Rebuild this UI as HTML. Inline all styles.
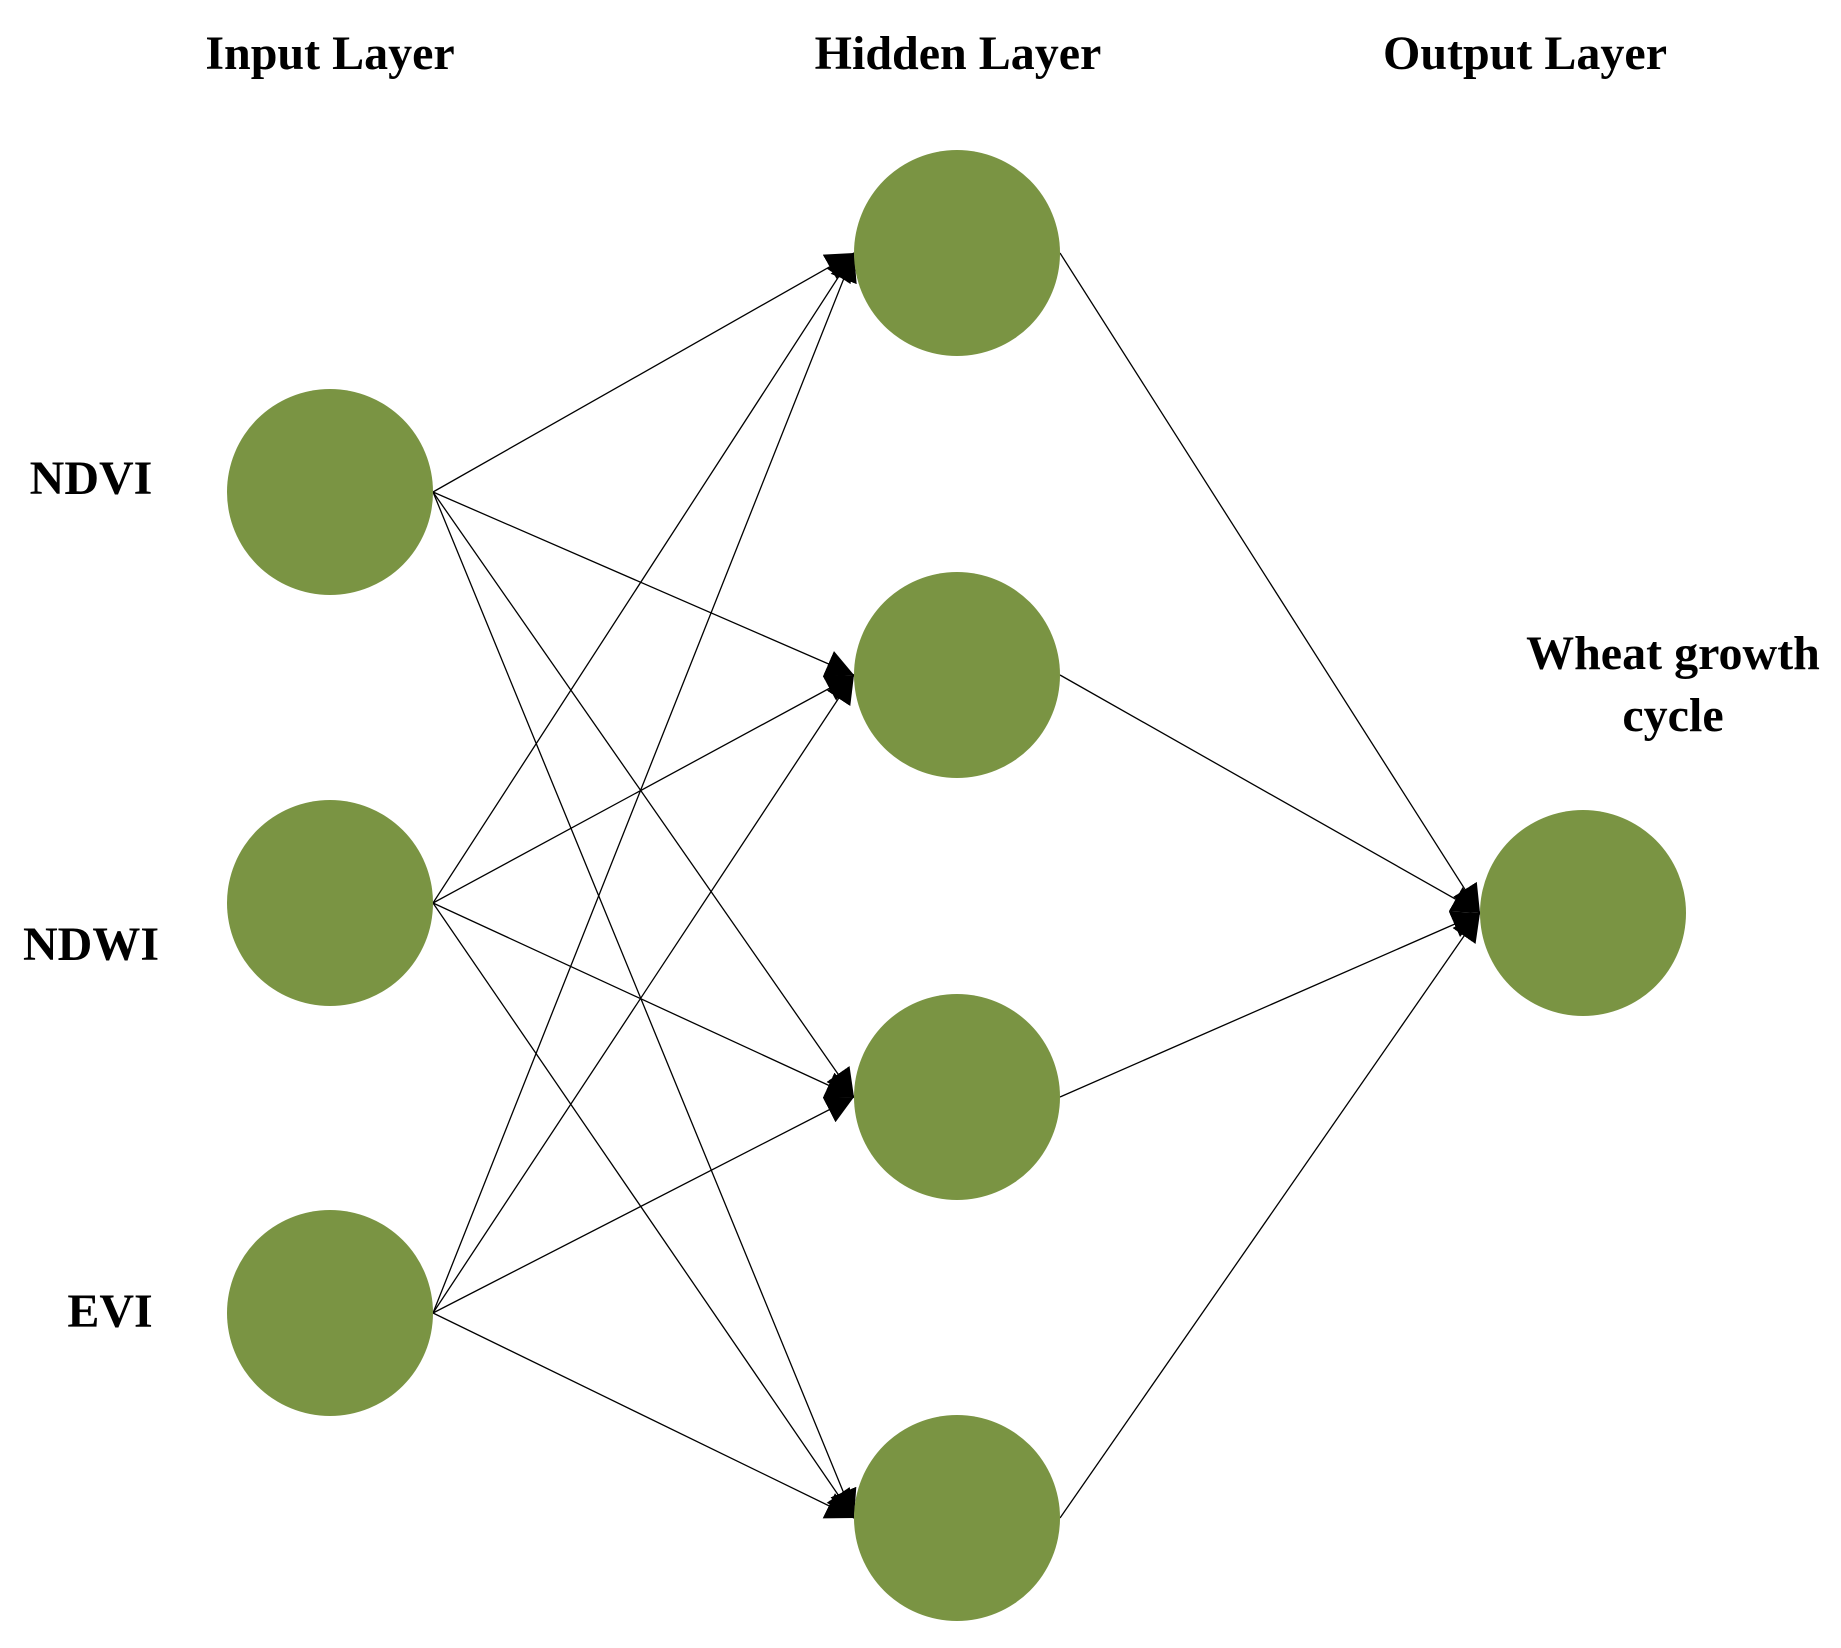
<!DOCTYPE html>
<html><head><style>html,body{margin:0;padding:0;background:#fff}</style></head>
<body>
<svg width="1841" height="1643" viewBox="0 0 1841 1643" xmlns="http://www.w3.org/2000/svg" font-family="Liberation Serif, serif" font-weight="bold" font-size="48">
<defs>
<marker id="a" viewBox="0 0 10 10" refX="10" refY="5" markerWidth="28" markerHeight="28" markerUnits="userSpaceOnUse" orient="auto"><path d="M0,0 L10,5 L0,10 z" fill="#000"/></marker>
</defs>
<g stroke="#000" stroke-width="1.3" marker-end="url(#a)">
<line x1="433" y1="492" x2="854" y2="253"/>
<line x1="433" y1="492" x2="854" y2="675"/>
<line x1="433" y1="492" x2="854" y2="1097"/>
<line x1="433" y1="492" x2="854" y2="1518"/>
<line x1="433" y1="903" x2="854" y2="253"/>
<line x1="433" y1="903" x2="854" y2="675"/>
<line x1="433" y1="903" x2="854" y2="1097"/>
<line x1="433" y1="903" x2="854" y2="1518"/>
<line x1="433" y1="1313" x2="854" y2="253"/>
<line x1="433" y1="1313" x2="854" y2="675"/>
<line x1="433" y1="1313" x2="854" y2="1097"/>
<line x1="433" y1="1313" x2="854" y2="1518"/>
<line x1="1060" y1="253" x2="1480" y2="913"/>
<line x1="1060" y1="675" x2="1480" y2="913"/>
<line x1="1060" y1="1097" x2="1480" y2="913"/>
<line x1="1060" y1="1518" x2="1480" y2="913"/>
</g>
<g fill="#7a9443">
<circle cx="330" cy="492" r="103"/>
<circle cx="330" cy="903" r="103"/>
<circle cx="330" cy="1313" r="103"/>
<circle cx="957" cy="253" r="103"/>
<circle cx="957" cy="675" r="103"/>
<circle cx="957" cy="1097" r="103"/>
<circle cx="957" cy="1518" r="103"/>
<circle cx="1583" cy="913" r="103"/>
</g>
<g fill="#000" text-anchor="middle">
<text x="330" y="69">Input Layer</text>
<text x="958" y="69">Hidden Layer</text>
<text x="1525" y="69">Output Layer</text>
<text x="1673" y="669">Wheat growth</text>
<text x="1673" y="731">cycle</text>
<text x="91" y="494">NDVI</text>
<text x="91" y="960">NDWI</text>
<text x="110" y="1327">EVI</text>
</g>
</svg>
</body></html>
